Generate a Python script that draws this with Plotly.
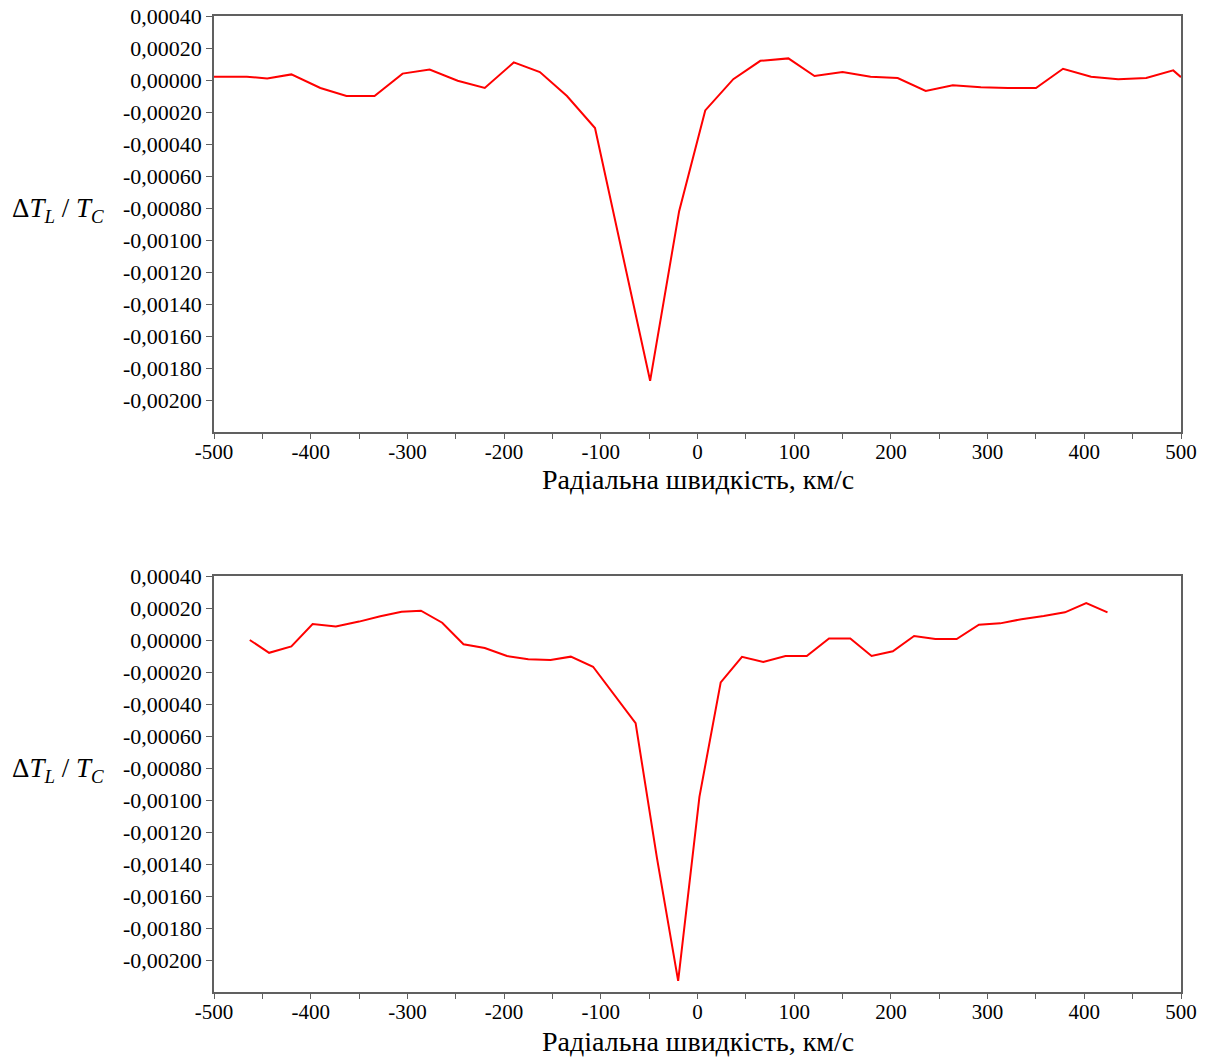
import plotly.graph_objects as go
from plotly.subplots import make_subplots

# Profile 1: radial velocity (km/s) and relative line depth
v_top = [-500, -466, -445, -420, -390, -363, -334, -305, -277, -248, -220, -190,
         -163, -135, -106, -77, -49, -19, 8, 37, 65, 94, 121, 150, 179, 207,
         236, 264, 293, 321, 350, 378, 407, 435, 464, 492, 500]
d_top = [0.00002, 0.00002, 0.00001, 0.000035, -0.00005, -0.0001, -0.0001, 0.00004,
         0.000065, -0.000005, -0.00005, 0.00011, 0.00005, -0.0001, -0.0003,
         -0.0011, -0.00188, -0.00082, -0.00019, 0.000005, 0.00012, 0.000135,
         0.000025, 0.00005, 0.00002, 0.000012, -0.000068, -0.000033, -0.000045,
         -0.00005, -0.00005, 0.00007, 0.00002, 0.000005, 0.000012, 0.00006, 0.000018]

# Profile 2
v_bot = [-463, -443, -420, -398, -374, -350, -328, -306, -286, -264, -242, -220,
         -197, -175, -152, -131, -108, -86, -64, -42, -20, 2, 24, 46, 68, 91,
         113, 136, 158, 180, 202, 224, 246, 268, 291, 313, 335, 358, 380, 402, 424]
d_bot = [0.0, -0.00008, -0.00004, 0.0001, 0.000085, 0.000115, 0.000148, 0.000177,
         0.000183, 0.000108, -0.000027, -0.00005, -0.0001, -0.00012, -0.000125,
         -0.000104, -0.000167, -0.00034, -0.00052, -0.00136, -0.00213, -0.00098,
         -0.000265, -0.000105, -0.000137, -0.0001, -0.0001, 0.00001, 0.00001,
         -0.0001, -0.00007, 0.000025, 0.000006, 0.000006, 0.000096, 0.000104,
         0.00013, 0.00015, 0.000173, 0.00023, 0.000173]

# Axis ticks
x_tickvals = list(range(-500, 501, 100))
x_ticktext = [str(v) for v in x_tickvals]
x_minorvals = list(range(-450, 451, 100))
y_tickvals = [0.0004 - 0.0002 * i for i in range(13)]
y_ticktext = ["0,00040", "0,00020", "0,00000", "-0,00020", "-0,00040", "-0,00060",
              "-0,00080", "-0,00100", "-0,00120", "-0,00140", "-0,00160",
              "-0,00180", "-0,00200"]

x_title = "Радіальна швидкість, км/с"
y_title = "Δ<i>T</i><sub><i>L</i></sub> / <i>T</i><sub><i>C</i></sub>"

FONT = "Liberation Serif, Times New Roman, serif"
AXIS = "#606060"
W, H = 1213, 1057

fig = make_subplots(rows=2, cols=1)
fig.add_trace(go.Scatter(x=v_top, y=d_top, mode="lines",
                         line=dict(color="#ff0000", width=2)), row=1, col=1)
fig.add_trace(go.Scatter(x=v_bot, y=d_bot, mode="lines",
                         line=dict(color="#ff0000", width=2)), row=2, col=1)

xdom = [214 / W, 1181 / W]
ydoms = {1: [1 - 432 / H, 1 - 16 / H], 2: [1 - 992 / H, 1 - 576 / H]}

for r in (1, 2):
    fig.update_xaxes(row=r, col=1, domain=xdom, range=[-500, 500], automargin=False,
                     tickmode="array", tickvals=x_tickvals, ticktext=x_ticktext,
                     ticks="outside", ticklen=5, tickcolor=AXIS,
                     minor=dict(tickmode="array", tickvals=x_minorvals,
                                ticks="outside", ticklen=5, tickcolor=AXIS),
                     ticklabelstandoff=-5,
                     showline=True, linecolor=AXIS, linewidth=1.5, mirror=True,
                     showgrid=False, zeroline=False,
                     tickfont=dict(family=FONT, size=21, color="black"))
    fig.update_yaxes(row=r, col=1, domain=ydoms[r], range=[-0.0022, 0.0004],
                     automargin=False,
                     tickmode="array", tickvals=y_tickvals, ticktext=y_ticktext,
                     ticks="outside", ticklen=6, tickcolor=AXIS,
                     showline=True, linecolor=AXIS, linewidth=1.5, mirror=True,
                     showgrid=False, zeroline=False,
                     tickfont=dict(family=FONT, size=22, color="black"))

annotations = []
for ty, yl in ((1 - 480 / H, 1 - 210 / H), (1 - 1041 / H, 1 - 770 / H)):
    annotations.append(dict(text=x_title, x=(214 + 1181) / 2 / W, y=ty,
                            xref="paper", yref="paper", showarrow=False,
                            xanchor="center", yanchor="middle",
                            font=dict(family=FONT, size=28, color="black")))
    annotations.append(dict(text=y_title, x=58 / W, y=yl,
                            xref="paper", yref="paper", showarrow=False,
                            xanchor="center", yanchor="middle",
                            font=dict(family=FONT, size=27, color="black")))

fig.update_layout(width=W, height=H, margin=dict(l=0, r=0, t=0, b=0, autoexpand=False),
                  paper_bgcolor="white", plot_bgcolor="white",
                  showlegend=False, annotations=annotations)

fig.write_html("out.html")
